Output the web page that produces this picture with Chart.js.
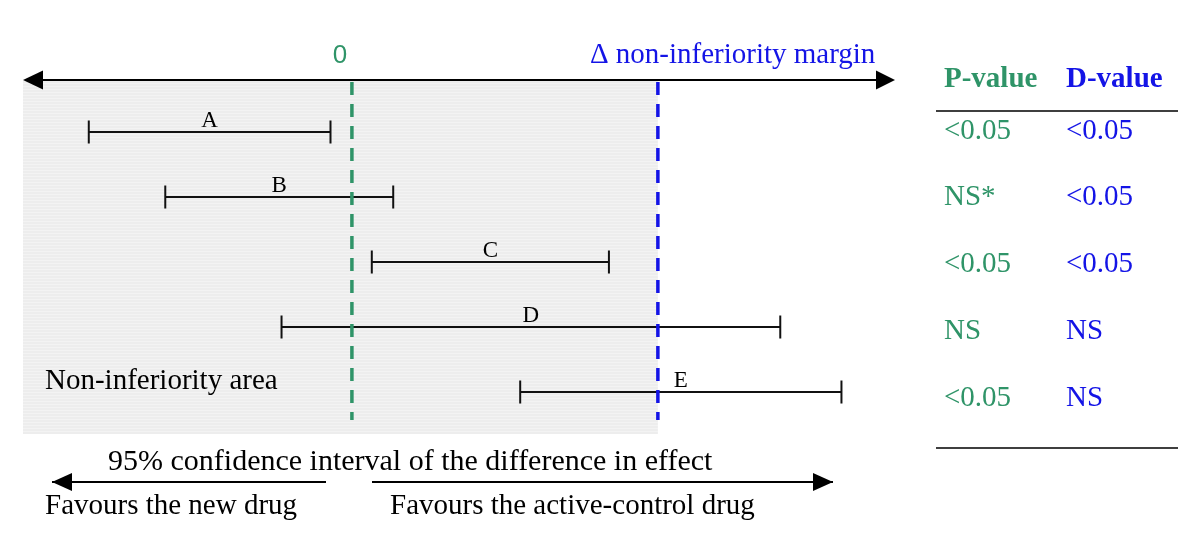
<!DOCTYPE html>
<html>
<head>
<meta charset="utf-8">
<script src="https://cdn.jsdelivr.net/npm/chart.js@4/dist/chart.umd.min.js"></script>
<style>
  html, body { margin: 0; padding: 0; background: #fff; }
  #wrap { width: 1200px; height: 552px; }
</style>
</head>
<body>
<div id="wrap"><canvas id="niChart" width="1200" height="552"></canvas></div>
<script>
// trials and their 95% CI of the difference in effect (margin = 10 units)
const trials = ['A', 'B', 'C', 'D', 'E'];
const lower = [-8.6, -6.1, 0.65, -2.3, 5.5];
const upper = [-0.7, 1.35, 8.4, 14.0, 16.0];
const margin = 10;
const pValues = ['<0.05', 'NS*', '<0.05', 'NS', '<0.05'];
const dValues = ['<0.05', '<0.05', '<0.05', 'NS', 'NS'];

const GREEN = '#2f9468';
const BLUE = '#1414e6';
const SERIF = '"Liberation Serif", "Times New Roman", serif';

// one dataset per interval, caps are drawn as vertical 'line' points
const intervalSets = trials.map(function (t, i) {
    return {
        label: t,
        data: [{ x: lower[i], y: i }, { x: upper[i], y: i }],
        showLine: true,
        borderColor: '#111',
        borderWidth: 2,
        pointStyle: 'line',
        rotation: 90,
        pointRadius: 11.5,
        pointBorderWidth: 2,
        pointBorderColor: '#111'
    };
});

function refLine(x, color) {
    return {
        label: 'ref' + x,
        data: [{ x: x, y: -0.77 }, { x: x, y: 4.43 }],
        showLine: true,
        borderColor: color,
        borderWidth: 3.5,
        borderDash: [13, 9],
        pointRadius: 0
    };
}

function arrowHead(ctx, x, y, dir, len, half) {
    ctx.beginPath();
    ctx.moveTo(x, y);
    ctx.lineTo(x - dir * len, y - half);
    ctx.lineTo(x - dir * len, y + half);
    ctx.closePath();
    ctx.fill();
}

function arrow(ctx, x1, x2, y, dir) {
    ctx.strokeStyle = '#000';
    ctx.fillStyle = '#000';
    ctx.lineWidth = 2;
    ctx.beginPath();
    ctx.moveTo(x1, y);
    ctx.lineTo(x2, y);
    ctx.stroke();
    if (dir < 0) arrowHead(ctx, x1, y, -1, 20, 9);
    if (dir > 0) arrowHead(ctx, x2, y, 1, 20, 9);
}

const diagram = {
    id: 'diagram',
    beforeDatasetsDraw(chart) {
        const ctx = chart.ctx;
        const area = chart.chartArea;
        const xs = chart.scales.x;
        // striped grey non-inferiority area
        const pat = document.createElement('canvas');
        pat.width = 4; pat.height = 3;
        const pc = pat.getContext('2d');
        pc.fillStyle = '#ededed'; pc.fillRect(0, 0, 4, 3);
        pc.fillStyle = '#f3f3f3'; pc.fillRect(0, 2, 4, 1);
        ctx.save();
        ctx.fillStyle = ctx.createPattern(pat, 'repeat');
        ctx.fillRect(area.left, area.top + 1, xs.getPixelForValue(margin) - area.left, area.bottom - area.top - 1);
        ctx.restore();
    },
    afterDatasetsDraw(chart) {
        const ctx = chart.ctx;
        const area = chart.chartArea;
        const xs = chart.scales.x;
        const ys = chart.scales.y;
        ctx.save();

        // top axis with arrows both ways
        ctx.strokeStyle = '#000';
        ctx.fillStyle = '#000';
        ctx.lineWidth = 2;
        ctx.beginPath();
        ctx.moveTo(area.left + 10, area.top);
        ctx.lineTo(area.right - 10, area.top);
        ctx.stroke();
        arrowHead(ctx, area.left, area.top, -1, 20, 9.5);
        arrowHead(ctx, area.right, area.top, 1, 19, 9.5);

        // axis labels
        ctx.textBaseline = 'middle';
        ctx.fillStyle = GREEN;
        ctx.font = '26px "Liberation Sans", Arial, sans-serif';
        ctx.textAlign = 'center';
        ctx.fillText('0', xs.getPixelForValue(0) - 12, 56);
        ctx.fillStyle = BLUE;
        ctx.font = '29px ' + SERIF;
        ctx.textAlign = 'left';
        ctx.fillText('\u0394 non-inferiority margin', xs.getPixelForValue(margin) - 68, 55);

        // interval letters
        ctx.fillStyle = '#000';
        ctx.font = '23px ' + SERIF;
        ctx.textAlign = 'center';
        ctx.textBaseline = 'alphabetic';
        trials.forEach(function (t, i) {
            const cx = (xs.getPixelForValue(lower[i]) + xs.getPixelForValue(upper[i])) / 2;
            ctx.fillText(t, cx, ys.getPixelForValue(i) - 5);
        });

        ctx.textAlign = 'left';
        ctx.textBaseline = 'middle';
        ctx.font = '29px ' + SERIF;
        ctx.fillText('Non-inferiority area', 45, 381);

        // bottom caption and arrows
        ctx.fillText('Favours the new drug', 45, 506);
        ctx.fillText('Favours the active-control drug', 390, 506);
        ctx.font = '30px ' + SERIF;
        ctx.fillText('95% confidence interval of the difference in effect', 108, 462);
        arrow(ctx, 52, 326, 482, -1);
        arrow(ctx, 372, 833, 482, 1);

        // table on the right
        ctx.font = 'bold 29px ' + SERIF;
        ctx.fillStyle = GREEN;
        ctx.fillText('P-value', 944, 80);
        ctx.fillStyle = BLUE;
        ctx.fillText('D-value', 1066, 80);
        ctx.strokeStyle = '#000';
        ctx.lineWidth = 1.5;
        ctx.beginPath();
        ctx.moveTo(936, 111); ctx.lineTo(1178, 111);
        ctx.moveTo(936, 448); ctx.lineTo(1178, 448);
        ctx.stroke();
        ctx.font = '29px ' + SERIF;
        pValues.forEach(function (v, i) {
            const y = 131 + i * 66.75;
            ctx.fillStyle = GREEN;
            ctx.fillText(v, 944, y);
            ctx.fillStyle = BLUE;
            ctx.fillText(dValues[i], 1066, y);
        });
        ctx.restore();
    }
};

new Chart(document.getElementById('niChart'), {
    type: 'scatter',
    data: {
        datasets: [refLine(0, GREEN), refLine(margin, BLUE)].concat(intervalSets)
    },
    options: {
        responsive: false,
        animation: false,
        events: [],
        layout: { padding: { left: 23, right: 305, top: 80, bottom: 118 } },
        scales: {
            x: { type: 'linear', min: -10.75, max: 17.75, display: false },
            y: { type: 'linear', min: -0.8, max: 4.646, reverse: true, display: false }
        },
        plugins: {
            legend: { display: false },
            tooltip: { enabled: false }
        }
    },
    plugins: [diagram]
});
</script>
</body>
</html>
